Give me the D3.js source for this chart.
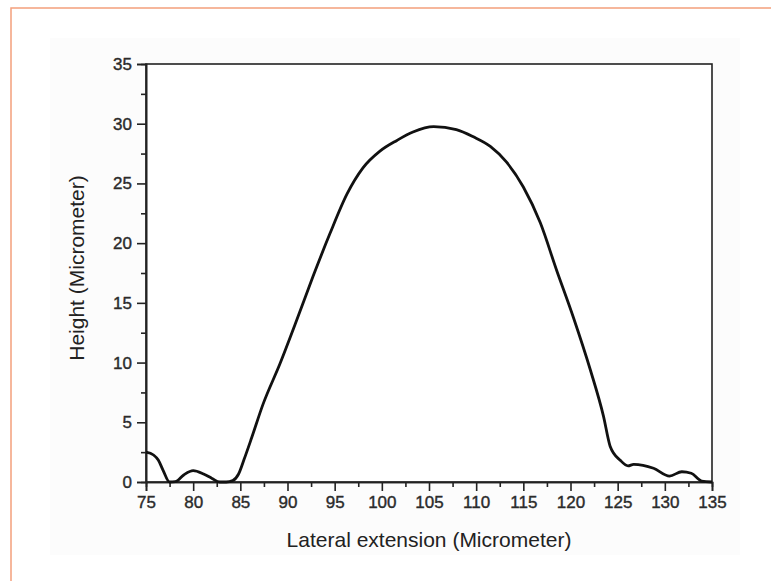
<!DOCTYPE html>
<html>
<head>
<meta charset="utf-8">
<script src="https://cdn.jsdelivr.net/npm/d3@7"></script>
<style>
  body { margin: 0; background: #fff; }
  text { font-family: "Liberation Sans", Arial, sans-serif; fill: #222; }
</style>
</head>
<body>
<div id="chart"></div>
<script>
// profile of the bump
var lateral = [75, 75.8, 76.3, 76.8, 77.5, 78.1, 79.0, 80.0, 81.1, 82.0, 82.8, 83.5, 84.2, 84.8,
  85.4, 86.2, 87.4, 89.2, 91.0, 92.7, 94.5, 96.3, 98.0, 99.8, 101.6, 103.3, 105.5, 107.9,
  109.7, 111.5, 113.2, 115.0, 116.8, 118.5, 120.3, 122.1, 123.5, 124.2, 125.3, 126.1,
  126.7, 128.8, 130.5, 131.8, 132.8, 133.9, 135];
var height_um = [2.5, 2.26, 1.84, 1.0, 0, 0.03, 0.59, 0.95, 0.67, 0.3, 0, 0, 0.12, 0.65,
  1.9, 3.7, 6.5, 9.9, 13.6, 17.2, 20.8, 24.1, 26.3, 27.7, 28.6, 29.3, 29.75, 29.5,
  28.9, 28.1, 26.8, 24.7, 21.7, 17.8, 13.8, 9.4, 5.5, 3.0, 1.8, 1.35,
  1.48, 1.15, 0.5, 0.86, 0.73, 0.08, 0];

var xTicks = [75, 80, 85, 90, 95, 100, 105, 110, 115, 120, 125, 130, 135];
var yTicks = [0, 5, 10, 15, 20, 25, 30, 35];

var W = 771, H = 581;
// plot box edges (don't use "top", it's window.top)
var pL = 146, pR = 712, pT = 64, pB = 482;

var svg = d3.select("#chart").append("svg")
  .attr("width", W).attr("height", H);

// orange frame (only top and left edges inside the picture)
svg.append("rect")
  .attr("x", 11).attr("y", 8)
  .attr("width", 800).attr("height", 600)
  .attr("fill", "none")
  .attr("stroke", "#f4a07c")
  .attr("stroke-width", 1.5);

svg.append("rect")
  .attr("x", 50).attr("y", 38)
  .attr("width", 690).attr("height", 517)
  .attr("fill", "#fcfcfc");

var x = d3.scaleLinear().domain([75, 135]).range([pL, pR]);
var y = d3.scaleLinear().domain([0, 35]).range([pB, pT]);

var pts = lateral.map(function(d, i) { return [d, height_um[i]]; });

// box
svg.append("rect")
  .attr("x", pL).attr("y", pT)
  .attr("width", pR - pL).attr("height", pB - pT)
  .attr("fill", "#fff")
  .attr("stroke", "#222")
  .attr("stroke-width", 1.6);

svg.append("g")
  .attr("transform", "translate(0," + pB + ")")
  .call(d3.axisBottom(x).tickValues(xTicks).tickSize(9).tickPadding(5));

svg.append("g")
  .attr("transform", "translate(0," + pB + ")")
  .call(d3.axisBottom(x).tickValues(d3.range(77.5, 135, 5)).tickSize(5).tickFormat(""));

svg.append("g")
  .attr("transform", "translate(" + pL + ",0)")
  .call(d3.axisLeft(y).tickValues(yTicks).tickSize(9).tickPadding(5));

svg.append("g")
  .attr("transform", "translate(" + pL + ",0)")
  .call(d3.axisLeft(y).tickValues(d3.range(2.5, 35, 5)).tickSize(5).tickFormat(""));

svg.selectAll(".domain").attr("stroke", "#222").attr("stroke-width", 1.6);
svg.selectAll(".tick line").attr("stroke", "#222").attr("stroke-width", 1.6);
svg.selectAll(".tick text")
  .style("font-family", "'Liberation Sans', Arial, sans-serif")
  .style("font-size", "17px")
  .style("fill", "#2b2b2b")
  .style("stroke", "#2b2b2b")
  .style("stroke-width", "0.4px");

svg.append("path")
  .datum(pts)
  .attr("fill", "none")
  .attr("stroke", "#111")
  .attr("stroke-width", 2.8)
  .attr("stroke-linejoin", "round")
  .attr("d", d3.line()
    .x(function(d) { return x(d[0]); })
    .y(function(d) { return y(d[1]); })
    .curve(d3.curveMonotoneX));

svg.append("text")
  .attr("x", (pL + pR) / 2)
  .attr("y", 547)
  .attr("text-anchor", "middle")
  .style("font-size", "21px")
  .text("Lateral extension (Micrometer)");

svg.append("text")
  .attr("transform", "translate(84,268) rotate(-90)")
  .attr("text-anchor", "middle")
  .style("font-size", "21px")
  .text("Height (Micrometer)");
</script>
</body>
</html>
